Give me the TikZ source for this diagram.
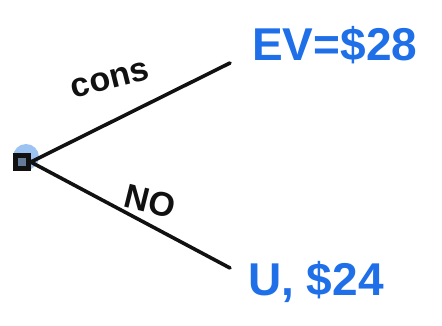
\documentclass[tikz,border=0pt]{standalone}
\usepackage{fontspec}
\setmainfont{Liberation Sans}
\usepackage{tikz}
\usetikzlibrary{positioning}
\definecolor{ink}{HTML}{111111}
\definecolor{pen}{HTML}{1E6FE8}
\definecolor{glow}{HTML}{9CC3F2}
\tikzset{
  branch/.style={draw=ink,line width=3.6pt,line cap=round},
  decbox/.style={draw=ink,fill=glow!60!ink,line width=4.5pt,minimum size=13pt,inner sep=0pt},
  payoff/.style={text=pen,font=\fontsize{46}{50}\selectfont\bfseries,anchor=west,inner sep=0pt},
  choice/.style={text=ink,font=\fontsize{34}{38}\selectfont\bfseries,inner sep=0pt}
}
\begin{document}
\begin{tikzpicture}[x=1pt,y=-1pt]
  \useasboundingbox (0,0) rectangle (442,325);
  \fill[glow] (26,157) circle (13);
  \node[decbox] (d) at (22,162) {};
  \coordinate (up) at (230,63);
  \coordinate (lo) at (230,268);
  \draw[branch] (d.east) -- (up);
  \draw[branch] (d.east) -- (lo);
  \node[payoff] (ev) at (252,45) {EV=\$28};
  \node[payoff] (u) at (248,282) {U, \$24};
  \node[choice,rotate=14] (cons) at (110,80) {cons};
  \node[choice,rotate=-14] (no) at (150,201) {NO};
\end{tikzpicture}
\end{document}
